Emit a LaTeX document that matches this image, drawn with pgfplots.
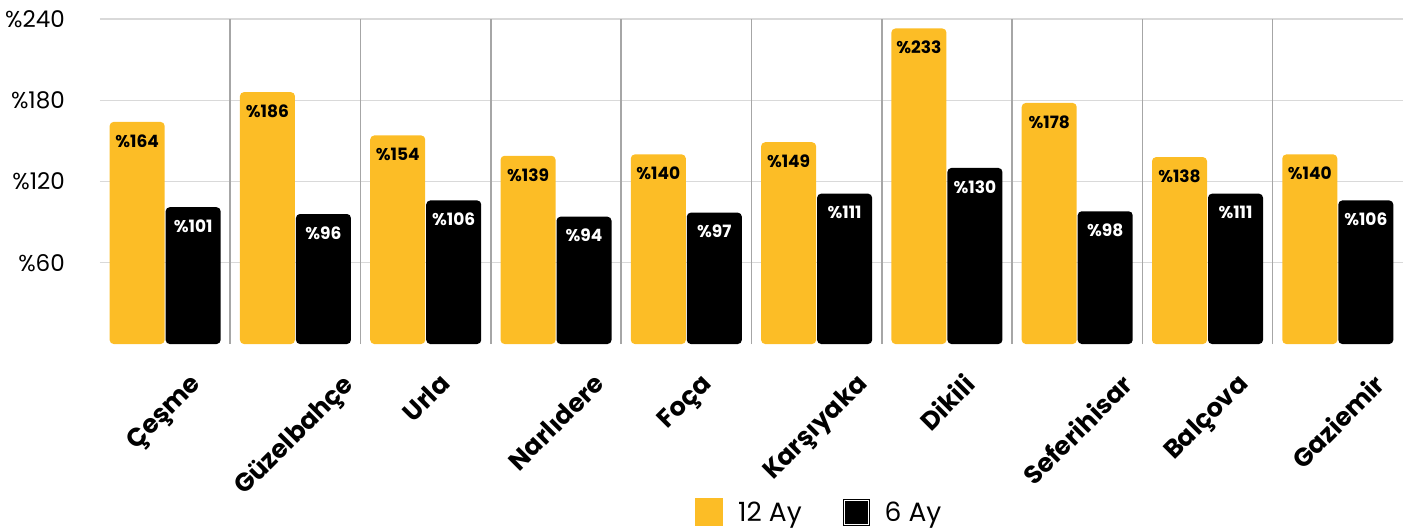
\documentclass[border=0pt]{standalone}
\usepackage{pgfplots}
\pgfplotsset{compat=1.18}
\usepackage{fontspec}
\setmainfont{Poppins}
\usepackage{graphicx}

\definecolor{sari}{HTML}{FCBD26}
\definecolor{siyah}{HTML}{000000}
\definecolor{izgara}{HTML}{D9D9D9}
\definecolor{ayrac}{HTML}{A6A6A6}

\begin{document}
\begin{tikzpicture}
\begin{axis}[
  scale only axis, width=1303pt, height=325pt,
  xmin=-0.5, xmax=9.5, ymin=0, ymax=240,
  ybar=1pt, bar width=55pt,
  /pgf/number format/assume math mode=true,
  axis line style={draw=none},
  major tick length=0pt,
  xtick={0,...,9},
  xticklabels={\rotatebox{45}{Çeşme},\rotatebox{45}{Güzelbahçe},\rotatebox{45}{Urla},
    \rotatebox{45}{Narlıdere},\rotatebox{45}{Foça},\rotatebox{45}{Karşıyaka},
    \rotatebox{45}{Dikili},\rotatebox{45}{Seferihisar},\rotatebox{45}{Balçova},
    \rotatebox{45}{Gaziemir}},
  xticklabel style={anchor=north, inner sep=0pt, yshift=-28pt,
    font=\fontsize{25.5}{30}\selectfont\bfseries},
  ytick={60,120,180,240},
  yticklabels={\%60,\%120,\%180,\%240},
  yticklabel style={anchor=east, inner sep=0pt, xshift=-35pt,
    font=\fontsize{23}{28}\selectfont},
  ymajorgrids,
  major grid style={draw=izgara, line width=1.2pt},
  extra x ticks={0.5,1.5,...,8.5},
  extra x tick labels={},
  extra x tick style={grid=major, major grid style={draw=ayrac, line width=1.6pt}},
  legend style={draw=none, fill=none, at={(0.4566,-0.517)}, anchor=west,
    inner sep=0pt, nodes={inner sep=0pt}, font=\fontsize{26.5}{31}\selectfont,
    /tikz/every odd column/.append style={column sep=15pt},
    /tikz/every even column/.append style={column sep=41pt}},
  legend columns=-1,
]
\addplot[fill=sari, draw=none, rounded corners=4pt,
  nodes near coords={\%\pgfmathprintnumber{\pgfplotspointmeta}},
  nodes near coords style={anchor=center, yshift=-19pt, text=black,
    font=\fontsize{17}{20}\selectfont\bfseries, rounded corners=0pt},
  legend image code/.code={\path[fill=sari, sharp corners] (0pt,-14pt) rectangle (28pt,14pt);}]
  coordinates {(0,164) (1,186) (2,154) (3,139) (4,140) (5,149) (6,233) (7,178) (8,138) (9,140)};
\addlegendentry{12 Ay}
\addplot[fill=siyah, draw=none, rounded corners=4pt,
  nodes near coords={\%\pgfmathprintnumber{\pgfplotspointmeta}},
  nodes near coords style={anchor=center, yshift=-19pt, text=white,
    font=\fontsize{17}{20}\selectfont\bfseries, rounded corners=0pt},
  legend image code/.code={
    \path[fill=siyah, sharp corners] (0pt,-13.5pt) rectangle (27pt,13.5pt);
    \path[draw=white, sharp corners, line width=0.8pt] (1.6pt,-11.9pt) rectangle (25.4pt,11.9pt);}]
  coordinates {(0,101) (1,96) (2,106) (3,94) (4,97) (5,111) (6,130) (7,98) (8,111) (9,106)};
\addlegendentry{6 Ay}
\coordinate (O) at (rel axis cs:0,0);
\end{axis}
\pgfresetboundingbox
\path[use as bounding box] (O) ++(-100pt,-186pt) rectangle ++(1411pt,530pt);
\end{tikzpicture}
\end{document}
